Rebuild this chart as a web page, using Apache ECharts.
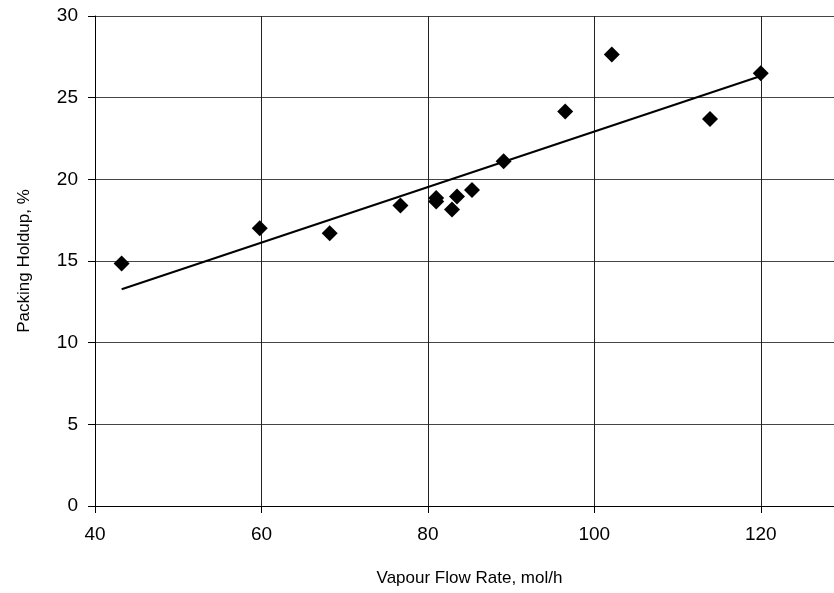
<!DOCTYPE html>
<html>
<head>
<meta charset="utf-8">
<script src="https://cdn.jsdelivr.net/npm/echarts@6/dist/echarts.min.js"></script>
<style>
  html, body { margin: 0; padding: 0; background: #fff; }
  #chart { width: 834px; height: 593px; }
</style>
</head>
<body>
<div id="chart"></div>
<script>
// measured points
var flowRate = [43.2, 59.8, 68.2, 76.7, 81.0, 81.0, 82.9, 83.5, 85.3, 89.1, 96.5, 102.1, 113.9, 120.0];
var holdup   = [14.85, 17.0, 16.7, 18.4, 18.65, 18.85, 18.15, 18.95, 19.35, 21.1, 24.15, 27.65, 23.7, 26.5];
// linear trend line ends
var trendX = [43.2, 120.0];
var trendY = [13.27, 26.33];
var xTicks = [40, 60, 80, 100, 120];

var chart = echarts.init(document.getElementById('chart'));
var font = 'Liberation Sans, Arial, sans-serif';

chart.setOption({
  animation: false,
  grid: { left: 95, top: 16, right: -10, bottom: 87, outerBoundsMode: 'none', containLabel: false },
  xAxis: {
    type: 'value', min: 40, max: 130, interval: 20,
    name: 'Vapour Flow Rate, mol/h', nameLocation: 'middle', nameGap: 64,
    nameTextStyle: { fontFamily: font, fontSize: 17, color: '#000' },
    axisLine: { show: true, onZero: false, lineStyle: { color: '#000', width: 1 } },
    axisTick: { show: true, length: 7, customValues: xTicks, lineStyle: { color: '#000' } },
    axisLabel: { fontFamily: font, fontSize: 19, color: '#000', margin: 19, customValues: xTicks },
    splitLine: { show: true, lineStyle: { color: '#222', width: 1 } }
  },
  yAxis: {
    type: 'value', min: 0, max: 30, interval: 5,
    name: 'Packing Holdup, %', nameLocation: 'middle', nameGap: 62,
    nameTextStyle: { fontFamily: font, fontSize: 17, color: '#000' },
    axisLine: { show: true, lineStyle: { color: '#000', width: 1 } },
    axisTick: { show: true, length: 7, lineStyle: { color: '#000' } },
    axisLabel: { fontFamily: font, fontSize: 19, color: '#000', margin: 17 },
    splitLine: { show: true, lineStyle: { color: '#444', width: 1 } }
  },
  series: [
    {
      type: 'line',
      data: trendX.map(function (x, i) { return [x, trendY[i]]; }),
      symbol: 'none',
      lineStyle: { color: '#000', width: 2 },
      z: 2
    },
    {
      type: 'scatter',
      data: flowRate.map(function (x, i) { return [x, holdup[i]]; }),
      symbol: 'diamond',
      symbolSize: 16,
      itemStyle: { color: '#000', opacity: 1 },
      z: 3
    }
  ]
});
</script>
</body>
</html>
